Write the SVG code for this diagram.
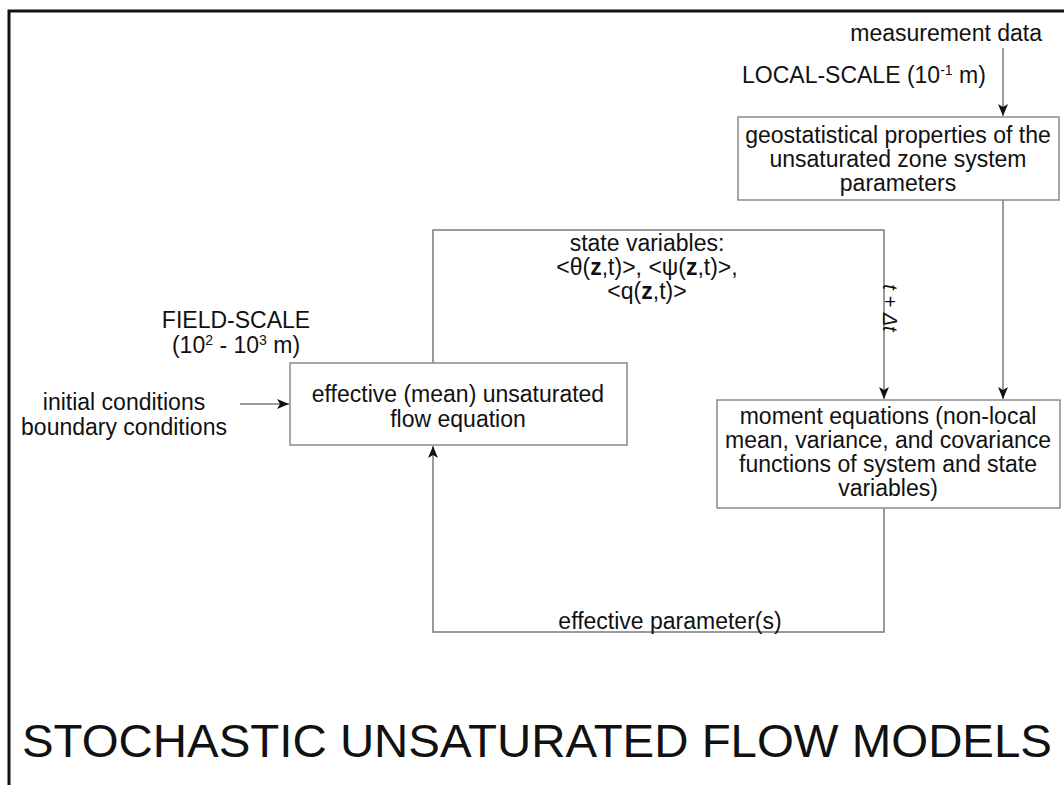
<svg xmlns="http://www.w3.org/2000/svg" width="1064" height="785" viewBox="0 0 1064 785">
<defs>
<style>
text{font-family:"Liberation Sans",Arial,sans-serif;fill:#111;}
.t{font-size:23px;text-anchor:middle;}
.box{fill:#fff;stroke:#8a8a8a;stroke-width:1.5;}
.c{fill:none;stroke:#7a7a7a;stroke-width:1.5;}
.sup{font-size:14px;}
</style>
<marker id="ah" viewBox="0 0 12 10" refX="12" refY="5" markerWidth="12" markerHeight="10" markerUnits="userSpaceOnUse" orient="auto">
<path d="M0,0 L12,5 L0,10 L3,5 Z" fill="#111"/>
</marker>
</defs>
<rect width="1064" height="785" fill="#fff"/>
<path d="M9,785 V11 H1064" fill="none" stroke="#111" stroke-width="3"/>

<g id="connectors">
<path class="c" d="M1003,48 V116" marker-end="url(#ah)"/>
<path class="c" d="M1003,200 V399" marker-end="url(#ah)"/>
<path class="c" d="M433,363 V230 H884 V399" marker-end="url(#ah)"/>
<path class="c" d="M884,508 V632 H433 V446" marker-end="url(#ah)"/>
<path class="c" d="M240,404 H289" marker-end="url(#ah)"/>
</g>

<g id="labels">
<text class="t" x="1042" y="41" style="text-anchor:end">measurement data</text>
<text class="t" x="742" y="83" style="text-anchor:start">LOCAL-SCALE (10<tspan class="sup" dy="-8">-1</tspan><tspan dy="8"> m)</tspan></text>
<text class="t" x="647" y="251">state variables:</text>
<text class="t" x="647" y="275">&lt;θ(<tspan font-weight="bold">z</tspan>,t)&gt;, &lt;ψ(<tspan font-weight="bold">z</tspan>,t)&gt;,</text>
<text class="t" x="647" y="299">&lt;q(<tspan font-weight="bold">z</tspan>,t)&gt;</text>
<text x="0" y="0" transform="translate(883,308) rotate(90)" style="font-size:20px;text-anchor:middle;font-style:italic">t + Δt</text>
<text class="t" x="236" y="328">FIELD-SCALE</text>
<text class="t" x="236" y="353">(10<tspan class="sup" dy="-8">2</tspan><tspan dy="8"> - 10</tspan><tspan class="sup" dy="-8">3</tspan><tspan dy="8"> m)</tspan></text>
<text class="t" x="124" y="410">initial conditions</text>
<text class="t" x="124" y="435">boundary conditions</text>
<text class="t" x="670" y="629">effective parameter(s)</text>
<text x="22" y="757" style="font-size:47px" textLength="1030" lengthAdjust="spacingAndGlyphs">STOCHASTIC UNSATURATED FLOW MODELS</text>
</g>

<g id="node-geostat">
<rect class="box" x="738" y="117" width="321" height="83"/>
<text class="t" x="898" y="143">geostatistical properties of the</text>
<text class="t" x="898" y="167">unsaturated zone system</text>
<text class="t" x="898" y="191">parameters</text>
</g>

<g id="node-moment">
<rect class="box" x="717" y="400" width="343" height="108"/>
<text class="t" x="888" y="424">moment equations (non-local</text>
<text class="t" x="888" y="448">mean, variance, and covariance</text>
<text class="t" x="888" y="472">functions of system and state</text>
<text class="t" x="888" y="496">variables)</text>
</g>

<g id="node-effective">
<rect class="box" x="290" y="363" width="337" height="82"/>
<text class="t" x="458" y="402">effective (mean) unsaturated</text>
<text class="t" x="458" y="427">flow equation</text>
</g>
</svg>
